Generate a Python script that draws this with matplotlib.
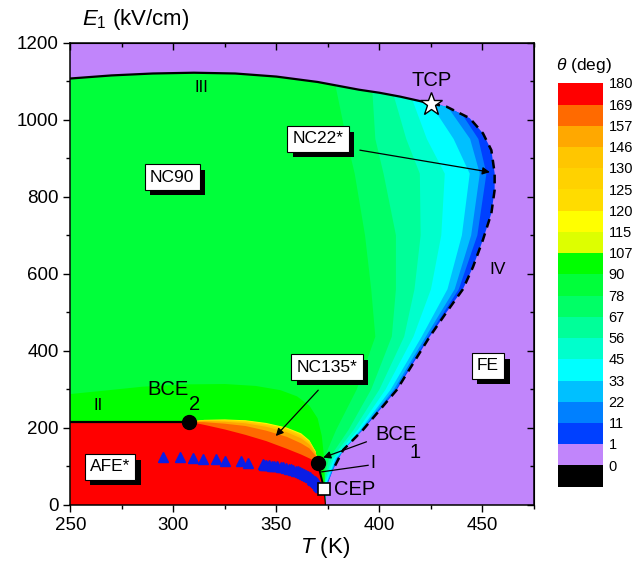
import matplotlib.pyplot as plt
import matplotlib.patheffects as pe
from matplotlib.patches import Polygon
from matplotlib.ticker import MultipleLocator
import numpy as np

plt.rcParams['font.family'] = ['Liberation Sans', 'DejaVu Sans']
plt.rcParams['mathtext.fontset'] = 'custom'
plt.rcParams['mathtext.rm'] = 'Liberation Sans'
plt.rcParams['mathtext.it'] = 'Liberation Sans:italic'

# === colour scale (top to bottom) ===
cb_labels = ['180', '169', '157', '146', '130', '125', '120', '115', '107', '90',
             '78', '67', '56', '45', '33', '22', '11', '1', '0']
cb_colors = ['#FF0000', '#FF6A00', '#FFA800', '#FFC600', '#FFD200', '#FFDC00', '#FFFF00',
             '#DDFF00', '#00FF00', '#00FF3A', '#00FF66', '#00FF99', '#00FFCC', '#00FFFF',
             '#00C0FF', '#0080FF', '#0040FF', '#C185FB', '#000000']
fe_color = '#C185FB'

# === phase boundaries (T in K, E in kV/cm) ===
line3_T = [250, 270, 290, 310, 330, 350, 370, 390, 400, 410, 420, 425.2]
line3_E = [1107, 1115, 1120, 1122, 1120, 1112, 1098, 1078, 1070, 1060, 1048, 1042]

edge_T = [425.2, 432.5, 443.8, 450.2, 454.3, 455.9, 455.9, 454.3, 450.2, 445.4, 440.5,
          432.5, 424.4, 408.3, 392, 382.4, 377.4, 374.4, 373.8]
edge_E = [1042, 1034, 1004, 965, 921, 861, 818, 757, 688, 618, 560,
          500, 437, 298, 195, 143, 91, 48, 0]

line2_T = [250, 307.6]
line2_E = [216, 216]
line1_T = [370, 373.2]
line1_E = [110, 40.7]

# iso-angle curves in the NC22*/NC90 region, sampled at iso_E
iso_E = [1160, 1080, 950, 860, 700, 560, 437, 300, 195, 120, 60]
iso_90 = [376, 379, 384, 388, 393, 396, 398, 389, 379, 373, 372]
iso_78 = [394, 396.5, 398, 402, 408, 408, 406, 396, 385, 375.5, 372.8]
iso_67 = [404, 406, 413, 419.6, 420, 417, 412, 400, 387.5, 376.8, 373.4]
iso_56 = [412, 414, 423, 431.7, 430, 425, 416.5, 403, 389.5, 377.8, 374]
iso_45 = [418, 420, 436, 443.8, 440, 433, 420.5, 405.5, 390.7, 378.7, 374.5]
iso_33 = [424, 427, 444, 448.7, 444.5, 436.5, 422.5, 407, 391.3, 379.3, 374.8]
iso_22 = [428, 432, 448, 451.9, 447.5, 438.5, 423.6, 408, 391.7, 379.7, 375.1]

# bright green (107) pocket above line II
g107_T = [250, 265, 285, 305, 325, 340, 352, 360, 366, 370, 372, 373, 373.5]
g107_E = [288, 296, 307, 313, 314, 309, 298, 282, 258, 225, 180, 130, 60]

# NC135* dome between BCE2 and BCE1
dome_T = [307.6, 315, 325, 335, 345, 355, 362, 366, 369, 370]
dome_120 = [216, 221, 222, 220, 213, 201, 186, 168, 140, 110]
dome_125 = [216, 220.5, 221, 218.5, 211, 199, 183.5, 166, 139, 110]
dome_130 = [216, 220, 220, 217, 209, 197, 181, 164, 138, 110]
dome_146 = [216, 219, 218, 215, 207, 194, 178, 161, 136, 110]
dome_157 = [216, 218, 216, 212, 203, 189, 173, 157, 134, 110]
dome_169 = [216, 215, 211, 205, 193, 177, 160, 147, 128, 110]
red_top = [216, 208, 196, 182, 166, 146, 131, 121, 113, 110]

# experimental points (blue triangles)
exp_T = [295.1, 303.2, 309.3, 314.2, 320.5, 325, 332.6, 336.3, 343.3, 344, 345, 346.5, 348,
         349, 350.5, 352, 353, 354.5, 356, 357, 358, 359.5, 360.5, 361.5, 362.5, 363.5,
         364.5, 365.5, 366.5, 367.5, 368, 368.5, 369, 369.5, 370, 370.5, 371]
exp_E = [125.4, 125.4, 122.8, 120.2, 118.6, 115, 114.2, 109.8, 105.6, 105, 104, 103, 102,
         101, 100, 99, 97.5, 96, 94.5, 93, 91, 89, 87, 85, 83, 80.5,
         78, 75, 72, 68.5, 65, 62, 59, 56, 53, 50, 47]

fig = plt.figure(figsize=(6.34, 5.66), dpi=100)
ax = fig.add_axes([0.1109, 0.1078, 0.7314, 0.8168])
ax.set_facecolor(fe_color)

# ordered region: blue base, then bands painted from outside in
region_pts = list(zip(line3_T, line3_E)) + list(zip(edge_T, edge_E)) + [(250, 0)]
region = Polygon(region_pts, closed=True, fc=cb_colors[16], ec='none', zorder=1)
ax.add_patch(region)

bands = [(iso_22, cb_colors[15]), (iso_33, cb_colors[14]), (iso_45, cb_colors[13]),
         (iso_56, cb_colors[12]), (iso_67, cb_colors[11]), (iso_78, cb_colors[10]),
         (iso_90, cb_colors[9])]
for Tc, col in bands:
    pts = [(240, 1250)] + list(zip(Tc, iso_E)) + [(373.5, -20), (240, -20)]
    p = Polygon(pts, closed=True, fc=col, ec='none', zorder=2)
    ax.add_patch(p)
    p.set_clip_path(region)

p = Polygon(list(zip(g107_T, g107_E)) + [(373.6, -5), (250, -5)], closed=True,
            fc=cb_colors[8], ec='none', zorder=3)
ax.add_patch(p)
p.set_clip_path(region)

dome = [(dome_120, cb_colors[6]), (dome_125, cb_colors[5]), (dome_130, cb_colors[4]),
        (dome_146, cb_colors[3]), (dome_157, cb_colors[2]), (dome_169, cb_colors[1]),
        (red_top, cb_colors[0])]
for Ec, col in dome:
    pts = [(250, 216)] + list(zip(dome_T, Ec)) + [(373.2, 40.7), (373.8, 0), (250, 0)]
    p = Polygon(pts, closed=True, fc=col, ec='none', zorder=4)
    ax.add_patch(p)

# boundary lines
ax.plot(line3_T, line3_E, color='k', lw=1.6, zorder=6)
ax.plot(line2_T, line2_E, color='k', lw=1.6, zorder=6)
ax.plot(edge_T[:-2], edge_E[:-2], color='k', lw=1.8, ls=(0, (3.5, 2.5)), zorder=6)
ax.plot(line1_T, line1_E, color='k', lw=1.4, zorder=6)
ax.plot([373.2, 373.8], [40.7, 0], color='k', lw=0.8, zorder=6)

ax.plot(exp_T, exp_E, ls='none', marker='^', ms=7, color='#0A1EE6', mec='#0A1EE6', zorder=7)

# special points
ax.plot(307.6, 216, 'o', color='k', ms=10, zorder=9)
ax.plot(370, 110, 'o', color='k', ms=10, zorder=9)
ax.plot(373.2, 40.7, 's', mfc='white', mec='k', mew=1.2, ms=9, zorder=9)
ax.plot(425.2, 1042, '*', mfc='white', mec='k', mew=1.0, ms=17, zorder=9)

# text labels
ax.text(313.5, 1083, 'III', fontsize=12, ha='center', va='center', zorder=8)
ax.text(263.5, 257, 'II', fontsize=12, ha='center', va='center', zorder=8)
ax.text(457.5, 612, 'IV', fontsize=12.5, ha='center', va='center', zorder=8)
ax.text(397, 108, 'I', fontsize=13, ha='center', va='center', zorder=8)
ax.plot([394.5, 372], [103, 86], color='k', lw=0.9, zorder=8)
ax.text(425.5, 1103, 'TCP', fontsize=14.5, ha='center', va='center', zorder=8)
ax.text(378, 41, 'CEP', fontsize=14.5, ha='left', va='center', zorder=8)
ax.text(297.5, 300, 'BCE', fontsize=14.5, ha='center', va='center', zorder=8)
ax.text(310.5, 262, '2', fontsize=14.5, ha='center', va='center', zorder=8)
ax.text(408, 184, 'BCE', fontsize=14.5, ha='center', va='center', zorder=8)
ax.text(417.5, 137, '1', fontsize=14.5, ha='center', va='center', zorder=8)

arrow = dict(arrowstyle='-|>', color='k', lw=0.9, mutation_scale=11, shrinkA=0, shrinkB=0)
ax.annotate('', xy=(372.7, 123), xytext=(393.7, 164), arrowprops=arrow, zorder=8)
ax.annotate('', xy=(453.6, 864), xytext=(390.5, 921), arrowprops=arrow, zorder=8)
ax.annotate('', xy=(349.7, 179), xytext=(370.3, 298), arrowprops=arrow, zorder=8)


def box_label(x, y, s):
    t = ax.text(x, y, s, ha='center', va='center', fontsize=12.5, zorder=10,
                bbox=dict(boxstyle='square,pad=0.3', fc='white', ec='k', lw=0.8))
    t.get_bbox_patch().set_path_effects(
        [pe.SimplePatchShadow(offset=(4, -4), shadow_rgbFace='k', alpha=1), pe.Normal()])


box_label(299.4, 851, 'NC90')
box_label(370.2, 950, 'NC22*')
box_label(374.6, 358, 'NC135*')
box_label(452.6, 361, 'FE')
box_label(269.3, 99, 'AFE*')

# axes and ticks
ax.set_xlim(250, 475)
ax.set_ylim(0, 1200)
ax.set_xticks(np.arange(250, 451, 50))
ax.xaxis.set_minor_locator(MultipleLocator(25))
ax.set_yticks(np.arange(0, 1201, 200))
ax.yaxis.set_minor_locator(MultipleLocator(100))
ax.tick_params(which='both', direction='out', top=False, right=False, labelsize=13.5)
ax.tick_params(which='major', length=5, width=1)
ax.tick_params(which='minor', length=3, width=1)
for s in ax.spines.values():
    s.set_linewidth(1.1)
    s.set_zorder(11)

top = ax.secondary_xaxis('top')
top.set_xticks(np.arange(250, 451, 50))
top.xaxis.set_minor_locator(MultipleLocator(25))
top.tick_params(which='both', direction='in', labeltop=False)
top.tick_params(which='major', length=5, width=1)
top.tick_params(which='minor', length=3, width=1)
right = ax.secondary_yaxis('right')
right.set_yticks(np.arange(0, 1201, 200))
right.yaxis.set_minor_locator(MultipleLocator(100))
right.tick_params(which='both', direction='in', labelright=False)
right.tick_params(which='major', length=5, width=1)
right.tick_params(which='minor', length=3, width=1)

fig.text(82 / 634, 1 - 20 / 566, r'$E_1$ (kV/cm)', fontsize=16, ha='left', va='center')
fig.text(325 / 634, 1 - 548 / 566, r'$T$ (K)', fontsize=16, ha='center', va='center')

# colour bar drawn as blocks
cax = fig.add_axes([558 / 634, 79.3 / 566, 45 / 634, 403.4 / 566])
n = len(cb_colors)
cax.barh(np.arange(n), 1, height=1, left=0, color=cb_colors[::-1], align='edge')
cax.set_xlim(0, 1)
cax.set_ylim(0, n)
cax.axis('off')
for i, lab in enumerate(cb_labels[::-1]):
    cax.text(1.12, i + 0.95, lab, fontsize=10.5, ha='left', va='center')
cax.text(-0.05, n + 0.85, r'$\theta$ (deg)', fontsize=12.5, ha='left', va='center')

fig.savefig('out.png', dpi=100)
